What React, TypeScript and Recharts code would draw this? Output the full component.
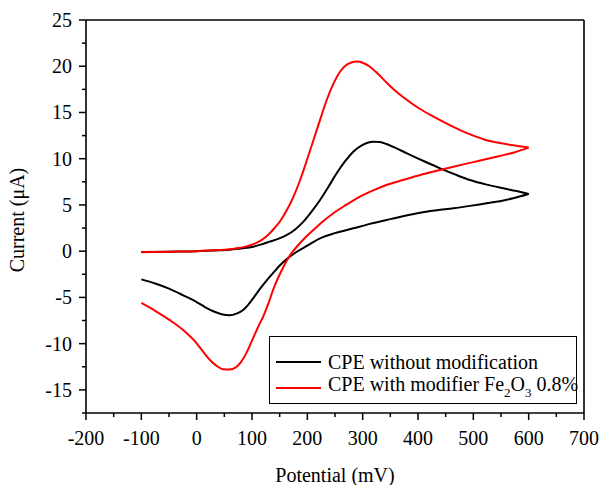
import { LineChart, Line, XAxis, YAxis, ReferenceLine } from "recharts";

// potential (mV), current (uA) pairs
const blackForward: [number, number][] = [
    [-100, -0.1], [-50, -0.05], [0, 0.0], [40, 0.1], [60, 0.15], [80, 0.3],
    [102, 0.48], [118, 0.75], [132, 1.03], [148, 1.35], [163, 1.75], [178, 2.35],
    [193, 3.19], [208, 4.3], [223, 5.53], [238, 6.95], [253, 8.42], [268, 9.7],
    [283, 10.76], [300, 11.5], [319, 11.84], [331, 11.8], [343, 11.59], [360, 11.15],
    [380, 10.58], [410, 9.75], [440, 8.96], [467, 8.3], [494, 7.7], [524, 7.2],
    [554, 6.8], [578, 6.5], [600, 6.18],
];

const blackReverse: [number, number][] = [
    [-100, -3.05], [-75, -3.5], [-50, -4.05], [-25, -4.75], [0, -5.5], [15, -6.05],
    [30, -6.5], [45, -6.82], [60, -6.93], [72, -6.75], [84, -6.36], [93, -5.8],
    [102, -5.1], [114, -4.1], [127, -3.12], [139, -2.3], [151, -1.5], [165, -0.75],
    [181, -0.06], [200, 0.6], [223, 1.39], [250, 1.95], [283, 2.47], [313, 2.95],
    [343, 3.37], [373, 3.78], [404, 4.16], [434, 4.42], [464, 4.64], [494, 4.9],
    [524, 5.18], [548, 5.4], [572, 5.72], [600, 6.18],
];

const redForward: [number, number][] = [
    [-100, -0.12], [-50, -0.05], [0, 0.0], [40, 0.12], [70, 0.3], [90, 0.52],
    [105, 0.82], [117, 1.2], [128, 1.7], [140, 2.45], [152, 3.35], [163, 4.45],
    [175, 5.9], [187, 7.7], [199, 9.8], [211, 12.0], [223, 14.2], [235, 16.35],
    [247, 18.1], [259, 19.4], [272, 20.2], [289, 20.5], [301, 20.35], [313, 19.95],
    [328, 19.15], [343, 18.25], [360, 17.3], [380, 16.35], [403, 15.4], [428, 14.55],
    [452, 13.8], [476, 13.1], [500, 12.5], [524, 12.0], [548, 11.7], [572, 11.45],
    [600, 11.2],
];

const redReverse: [number, number][] = [
    [-100, -5.6], [-75, -6.45], [-50, -7.4], [-25, -8.5], [0, -9.96], [12, -10.9],
    [24, -11.77], [36, -12.4], [48, -12.77], [60, -12.8], [70, -12.6], [80, -12.0],
    [90, -11.0], [102, -9.4], [111, -8.2], [120, -7.1], [130, -5.6], [138, -4.2],
    [147, -2.9], [157, -1.68], [168, -0.5], [181, 0.48], [195, 1.4], [211, 2.29],
    [228, 3.2], [247, 4.1], [270, 5.0], [295, 5.9], [320, 6.6], [343, 7.16],
    [373, 7.7], [404, 8.24], [434, 8.7], [464, 9.14], [494, 9.55], [524, 9.97],
    [548, 10.3], [572, 10.65], [600, 11.2],
];

const seriesNames = ["CPE without modification", "CPE with modifier Fe2O3 0.8%"];
const seriesColors = ["#000000", "#ff0000"];

const xMajor = [-200, -100, 0, 100, 200, 300, 400, 500, 600, 700];
const xMinor = [-150, -50, 50, 150, 250, 350, 450, 550, 650];
const yMajor = [-15, -10, -5, 0, 5, 10, 15, 20, 25];
const yMinor = [-17.5, -12.5, -7.5, -2.5, 2.5, 7.5, 12.5, 17.5, 22.5];

const FONT = "'Liberation Serif', 'Times New Roman', serif";

const toRows = (pts: [number, number][]) => pts.map(([x, y]) => ({ x, y }));

const XTick = (props: any) => {
    const { x, y, payload } = props;
    const major = xMajor.includes(payload.value);
    return (
        <g>
            <line x1={x} y1={y} x2={x} y2={y + (major ? 7 : 4)} stroke="#000" strokeWidth={1.5} />
            {major && (
                <text x={x} y={y + 32} textAnchor="middle" fontSize={20} fontFamily={FONT} fill="#000">
                    {payload.value}
                </text>
            )}
        </g>
    );
};

const YTick = (props: any) => {
    const { x, y, payload } = props;
    const major = yMajor.includes(payload.value);
    return (
        <g>
            <line x1={x} y1={y} x2={x - (major ? 7 : 4)} y2={y} stroke="#000" strokeWidth={1.5} />
            {major && (
                <text x={x - 14} y={y + 7} textAnchor="end" fontSize={20} fontFamily={FONT} fill="#000">
                    {payload.value}
                </text>
            )}
        </g>
    );
};

function LegendBox() {
    const row = (i: number, top: number) => (
        <div style={{ position: "absolute", left: 0, top, height: 26, display: "flex", alignItems: "center" }}>
            <span style={{ display: "inline-block", marginLeft: 6, width: 45, height: 2, background: seriesColors[i] }} />
            <span style={{ marginLeft: 7, fontSize: 20, lineHeight: "26px", whiteSpace: "nowrap" }}>
                {i === 0 ? (
                    seriesNames[0]
                ) : (
                    <>
                        CPE with modifier Fe<sub style={{ fontSize: 13, verticalAlign: -6 }}>2</sub>O
                        <sub style={{ fontSize: 13, verticalAlign: -6 }}>3</sub> 0.8%
                    </>
                )}
            </span>
        </div>
    );
    return (
        <div
            style={{
                position: "absolute",
                left: 269,
                top: 336,
                width: 306,
                height: 66,
                border: "1px solid #000",
                background: "#fff",
                fontFamily: FONT,
            }}
        >
            {row(0, 12)}
            {row(1, 38)}
        </div>
    );
}

export default function App() {
    return (
        <div style={{ position: "absolute", left: 0, top: 0, width: 603, height: 485, background: "#fff", fontFamily: FONT }}>
            <LineChart width={603} height={485} margin={{ top: 20, right: 19, bottom: 0, left: 0 }}>
                <XAxis
                    dataKey="x"
                    type="number"
                    domain={[-200, 700]}
                    ticks={[...xMajor, ...xMinor].sort((a, b) => a - b)}
                    interval={0}
                    height={72}
                    tickSize={0}
                    tickMargin={0}
                    tick={<XTick />}
                    axisLine={{ stroke: "#000", strokeWidth: 1.6 }}
                    allowDataOverflow
                    label={() => (
                        <text x={335} y={482} textAnchor="middle" fontSize={20} fontFamily={FONT} fill="#000">
                            Potential (mV)
                        </text>
                    )}
                />
                <YAxis
                    type="number"
                    domain={[-17.5, 25]}
                    ticks={[...yMajor, ...yMinor].sort((a, b) => a - b)}
                    interval={0}
                    width={86}
                    tickSize={0}
                    tickMargin={0}
                    tick={<YTick />}
                    axisLine={{ stroke: "#000", strokeWidth: 1.6 }}
                    allowDataOverflow
                    label={() => (
                        <text
                            x={24}
                            y={220}
                            transform="rotate(-90 24 220)"
                            textAnchor="middle"
                            fontSize={20}
                            fontFamily={FONT}
                            fill="#000"
                        >
                            Current (μA)
                        </text>
                    )}
                />
                <ReferenceLine y={25} stroke="#000" strokeWidth={1.6} />
                <ReferenceLine x={700} stroke="#000" strokeWidth={1.6} />
                <Line data={toRows(blackForward)} dataKey="y" type="monotone" stroke={seriesColors[0]} strokeWidth={2} dot={false} isAnimationActive={false} />
                <Line data={toRows(blackReverse)} dataKey="y" type="monotone" stroke={seriesColors[0]} strokeWidth={2} dot={false} isAnimationActive={false} />
                <Line data={toRows(redForward)} dataKey="y" type="monotone" stroke={seriesColors[1]} strokeWidth={2} dot={false} isAnimationActive={false} />
                <Line data={toRows(redReverse)} dataKey="y" type="monotone" stroke={seriesColors[1]} strokeWidth={2} dot={false} isAnimationActive={false} />
            </LineChart>
            <LegendBox />
        </div>
    );
}
